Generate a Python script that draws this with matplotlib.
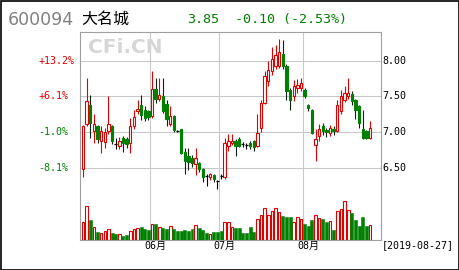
import matplotlib
matplotlib.use('Agg')
import matplotlib.pyplot as plt
from matplotlib.patches import Rectangle
import numpy as np

# daily candles, May..Aug
opens = [6.48, 7.11, 7.38, 7.01, 7.08, 6.88, 6.86, 7.01, 7.08, 6.83, 6.81, 6.92, 6.91, 6.85, 7.08, 7.30, 7.38, 7.31, 7.29,
         7.22, 7.60, 7.46, 7.50, 7.40, 7.11, 7.22, 7.01, 7.04, 6.73, 6.67, 6.64, 6.56, 6.57, 6.48, 6.39, 6.37, 6.40, 6.32,
         6.39, 6.37, 6.81, 6.85, 6.88, 6.91, 6.83, 6.82, 6.85, 6.87, 6.81, 7.06, 7.41, 7.71, 7.85, 7.92, 7.92, 8.10, 7.92, 7.59, 7.50, 7.62, 7.62,
         7.59, 7.38, 7.31, 6.82, 6.94, 7.08, 7.03, 6.99, 7.05, 7.01, 7.29, 7.45, 7.50, 7.54, 7.45, 7.36, 7.04, 7.01, 6.92]
highs = [7.10, 7.76, 7.52, 7.25, 7.10, 7.08, 7.06, 7.50, 7.10, 6.92, 6.93, 6.94, 6.93, 7.20, 7.31, 7.45, 7.52, 7.36, 7.31,
         7.86, 7.76, 7.76, 7.76, 7.45, 7.36, 7.24, 7.03, 7.05, 6.78, 6.78, 6.68, 6.78, 6.59, 6.50, 6.41, 6.43, 6.42, 6.33,
         6.41, 6.92, 6.97, 6.98, 6.90, 6.93, 6.86, 6.85, 6.87, 6.89, 7.25, 7.45, 7.85, 8.00, 8.19, 8.22, 8.31, 8.29, 7.95, 7.62, 7.73, 7.75, 7.76,
         7.62, 7.40, 7.33, 7.04, 7.11, 7.13, 7.06, 7.10, 7.08, 7.45, 7.59, 7.64, 7.76, 7.57, 7.47, 7.38, 7.31, 7.03, 7.15]
lows = [6.37, 7.08, 6.92, 6.85, 6.85, 6.71, 6.78, 6.97, 6.83, 6.76, 6.76, 6.73, 6.78, 6.71, 7.05, 7.25, 7.17, 7.15, 7.17,
        7.20, 7.41, 7.44, 7.27, 7.08, 7.08, 7.00, 7.00, 6.70, 6.41, 6.47, 6.52, 6.40, 6.44, 6.31, 6.25, 6.33, 6.30, 6.20,
        6.35, 6.35, 6.74, 6.82, 6.67, 6.79, 6.80, 6.76, 6.77, 6.74, 6.80, 7.00, 7.40, 7.65, 7.80, 7.88, 7.90, 7.88, 7.45, 7.31, 7.43, 7.55, 7.58,
        7.48, 7.30, 6.97, 6.60, 6.87, 6.96, 6.93, 6.95, 6.96, 7.00, 7.25, 7.42, 7.47, 7.38, 7.18, 7.06, 6.90, 6.90, 6.90]
closes = [7.08, 7.43, 7.13, 7.11, 6.90, 7.01, 7.00, 7.12, 6.88, 6.83, 6.88, 6.85, 6.83, 7.08, 7.21, 7.32, 7.24, 7.20, 7.21,
          7.60, 7.46, 7.52, 7.30, 7.18, 7.22, 7.03, 7.01, 6.71, 6.60, 6.58, 6.57, 6.64, 6.48, 6.37, 6.39, 6.41, 6.34, 6.32,
          6.39, 6.85, 6.88, 6.88, 6.81, 6.81, 6.83, 6.82, 6.81, 6.79, 6.99, 7.41, 7.78, 7.87, 8.03, 8.08, 8.12, 7.92, 7.57, 7.45, 7.64, 7.66, 7.69,
          7.51, 7.34, 6.99, 6.91, 7.04, 7.01, 7.00, 7.06, 7.01, 7.38, 7.50, 7.55, 7.55, 7.43, 7.31, 7.13, 6.92, 6.92, 7.06]
volumes = [17.7, 34.3, 20, 12.7, 7.7, 7, 9.3, 11, 6.7, 6, 6, 4.3, 5, 9.3, 11, 12, 12.7, 11, 10.3,
           16, 16, 12.7, 12, 11, 14.3, 11, 9.3, 9.3, 10.3, 9.3, 11, 15.3, 12, 10.3, 6.7, 6, 8.3, 7.7,
           9.3, 17.7, 17.7, 13.3, 12, 12, 6.7, 6.7, 13.3, 7.7, 21, 25, 32, 25.3, 28.7, 32, 28, 24.3, 23.3, 23.3, 17.7, 23.3, 21,
           16, 14.3, 20, 25.3, 22, 21, 18, 18.7, 10, 29.3, 31, 39.3, 30, 26.7, 20, 14.3, 22.7, 14.3, 15.3]

month_labels = ['06月', '07月', '08月']
month_start = [19, 38, 61]
price_ticks = [8.00, 7.50, 7.00, 6.50]
price_labels = ['8.00', '7.50', '7.00', '6.50']
pct_labels = ['+13.2%', '+6.1%', '-1.0%', '-8.1%']

RED = '#e00000'
GREEN = '#008000'
GRID = '#c8c8c8'
MONO = 'DejaVu Sans Mono'

W, H = 460, 270
fig = plt.figure(figsize=(W / 100, H / 100), dpi=100)
fig.patch.set_facecolor('white')


def fx(px):
    return px / W


def fy(py):
    return 1 - py / H


# main price axes and volume axes share the same box
ax = fig.add_axes([fx(80), fy(240), fx(381) - fx(80), fy(31.7) - fy(240)])
axv = fig.add_axes([fx(80), fy(240), fx(381) - fx(80), 40 / H])
axv.set_facecolor('none')
for a in (ax, axv):
    a.set_xlim(-0.83, 82.03)
    a.set_xticks([])
    a.set_yticks([])
ax.set_ylim(5.492, 8.406)
axv.set_ylim(0, 40)
for s in axv.spines.values():
    s.set_visible(False)
for s in ax.spines.values():
    s.set_color('#a0a0a0')
    s.set_linewidth(0.8)

o = np.array(opens)
h = np.array(highs)
l = np.array(lows)
c = np.array(closes)
v = np.array(volumes)
x = np.arange(len(o))
up = c > o
down = c < o
flat = c == o

# grid
for p in price_ticks:
    ax.axhline(p, color=GRID, lw=0.75, zorder=1)
for m in month_start:
    ax.axvline(m - 0.5, color=GRID, lw=0.75, zorder=1)

# wicks
ax.vlines(x[up], l[up], h[up], color=RED, lw=0.8, zorder=2)
ax.vlines(x[down], l[down], h[down], color='#102010', lw=0.8, zorder=2)
ax.vlines(x[flat], l[flat], h[flat], color='black', lw=0.8, zorder=2)
# bodies
ax.bar(x[up], c[up] - o[up], bottom=o[up], width=0.66, facecolor='white',
       edgecolor=RED, lw=0.8, zorder=3)
ax.bar(x[down], o[down] - c[down], bottom=c[down], width=0.66, facecolor=GREEN,
       edgecolor=GREEN, lw=0.8, zorder=3)
ax.hlines(o[flat], x[flat] - 0.42, x[flat] + 0.42, color='black', lw=0.9, zorder=3)

# volume
axv.bar(x[up], v[up], width=0.72, facecolor='white', edgecolor=RED, lw=0.8)
axv.bar(x[~up], v[~up], width=0.82, facecolor=GREEN, edgecolor=GREEN, lw=0.4)

# axis labels
for p, lab, pct in zip(price_ticks, price_labels, pct_labels):
    ax.text(82.3, p, lab, fontsize=7.2, family=MONO, va='center', ha='left')
    col = RED if pct.startswith('+') else GREEN
    ax.text(-12.3, p, pct, fontsize=7.2, family=MONO, color=col, va='center', ha='left')

for m, lab in zip(month_start, month_labels):
    ax.text(m + 0.9, -0.03, lab, transform=ax.get_xaxis_transform(), fontsize=7.2,
            family=[MONO, 'Noto Sans CJK SC'], va='center', ha='center')
ax.text(82.3, -0.025, '[2019-08-27]', transform=ax.get_xaxis_transform(), fontsize=7.2,
        family=MONO, va='center', ha='left')

# header
fig.text(fx(8), fy(20), '600094', fontsize=12.5, color='#808080', va='center', ha='left')
fig.text(fx(81), fy(19), '大名城', fontsize=11.5, family='Noto Sans CJK SC', va='center', ha='left')
fig.text(fx(187), fy(19.5), '3.85', fontsize=9.6, family=MONO, color=GREEN, va='center', ha='left')
fig.text(fx(235), fy(19.5), '-0.10 (-2.53%)', fontsize=9.6, family=MONO, color=GREEN, va='center', ha='left')

# watermark
fig.text(fx(88), fy(47.5), 'CFi.CN', fontsize=14.5, fontweight='bold', color='#d6d6d6',
         va='center', ha='left', zorder=0.5)

# outer frame
fig.patches.append(Rectangle((0.5 / W, 0.5 / H), 1 - 1.5 / W, 1 - 1.5 / H, transform=fig.transFigure,
                             fill=False, edgecolor='black', lw=1.2))

fig.savefig('out.png', dpi=100)
